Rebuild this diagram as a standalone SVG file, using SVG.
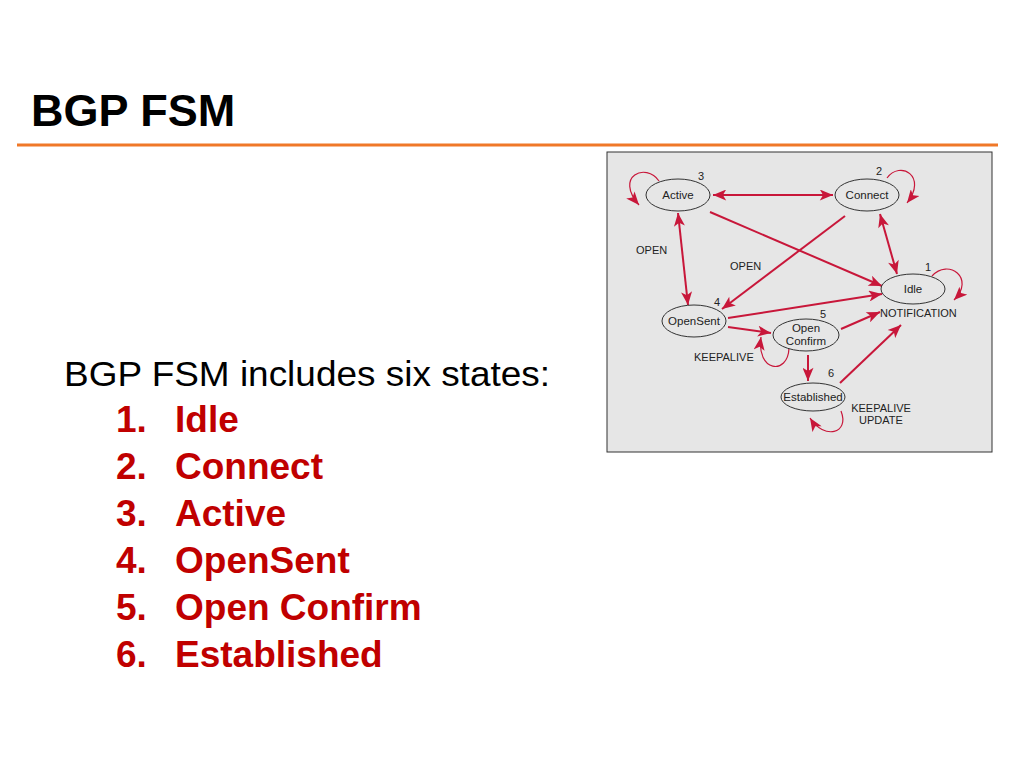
<svg xmlns="http://www.w3.org/2000/svg" width="1024" height="768" viewBox="0 0 1024 768">
<style>
.title{font-family:"Liberation Sans",Arial,sans-serif;font-weight:bold;font-size:45px;fill:#000}
.body{font-family:"Liberation Sans",Arial,sans-serif;font-size:35px;fill:#000}
.item{font-family:"Liberation Sans",Arial,sans-serif;font-weight:bold;font-size:37px;fill:#C00000}
.lbl{font-family:"Liberation Sans",Arial,sans-serif;font-size:11px;fill:#222}
.nl{font-family:"Liberation Sans",Arial,sans-serif;font-size:11.5px;fill:#222}
.st{fill:#E6E6E6;stroke:#333;stroke-width:1}
.e{fill:none;stroke:#C8173A;stroke-width:2}
.loop{fill:none;stroke:#C8173A;stroke-width:1.2}
</style>
<defs>
<marker id="ah" viewBox="0 0 12 10" refX="12" refY="5" markerWidth="14" markerHeight="11" markerUnits="userSpaceOnUse" orient="auto-start-reverse">
<path d="M0,0 L12,5 L0,10 L3,5 z" fill="#C8173A"/>
</marker>
</defs>
<rect width="1024" height="768" fill="#fff"/>
<text class="title" x="31" y="126">BGP FSM</text>
<line x1="17" y1="145" x2="998" y2="145" stroke="#F07828" stroke-width="3"/>
<text class="body" x="64" y="386" textLength="486" lengthAdjust="spacingAndGlyphs">BGP FSM includes six states:</text>
<g class="item">
<text x="116" y="432">1.</text><text x="175" y="432">Idle</text>
<text x="116" y="479">2.</text><text x="175" y="479">Connect</text>
<text x="116" y="526">3.</text><text x="175" y="526">Active</text>
<text x="116" y="573">4.</text><text x="175" y="573">OpenSent</text>
<text x="116" y="620">5.</text><text x="175" y="620">Open Confirm</text>
<text x="116" y="667">6.</text><text x="175" y="667">Established</text>
</g>
<rect x="607" y="152" width="385" height="300" fill="#E6E6E6" stroke="#333" stroke-width="1"/>
<g id="connectors">
<path class="e" d="M713,195 L833,195" marker-start="url(#ah)" marker-end="url(#ah)"/>
<path class="e" d="M678,213 L688,305" marker-start="url(#ah)" marker-end="url(#ah)"/>
<path class="e" d="M880,214 L897,274" marker-start="url(#ah)" marker-end="url(#ah)"/>
<path class="e" d="M710,212 L882,286" marker-end="url(#ah)"/>
<path class="e" d="M845,216 L722,309" marker-end="url(#ah)"/>
<path class="e" d="M728,318 L882,294" marker-end="url(#ah)"/>
<path class="e" d="M728,327 L771,333" marker-end="url(#ah)"/>
<path class="e" d="M841,329 L880,312" marker-end="url(#ah)"/>
<path class="e" d="M808,355 L808,381" marker-end="url(#ah)"/>
<path class="e" d="M840,383 L901,325" marker-end="url(#ah)"/>
<path class="loop" d="M659,181 C646,162 614,176 639,205" marker-end="url(#ah)"/>
<path class="loop" d="M887,178 C900,160 928,176 907,203" marker-end="url(#ah)"/>
<path class="loop" d="M932,276 C948,258 976,278 954,300" marker-end="url(#ah)"/>
<path class="loop" d="M789,348 C788,376 756,372 761,337" marker-end="url(#ah)"/>
<path class="loop" d="M841,411 C850,434 824,440 810,418" marker-end="url(#ah)"/>
</g>
<g id="active"><ellipse class="st" cx="678" cy="195" rx="32" ry="16"/><text class="nl" x="678" y="199" text-anchor="middle">Active</text><text class="lbl" x="701" y="180" text-anchor="middle">3</text></g>
<g id="connect"><ellipse class="st" cx="867" cy="195" rx="32" ry="16"/><text class="nl" x="867" y="199" text-anchor="middle">Connect</text><text class="lbl" x="879" y="175" text-anchor="middle">2</text></g>
<g id="idle"><ellipse class="st" cx="913" cy="289" rx="32" ry="15"/><text class="nl" x="913" y="293" text-anchor="middle">Idle</text><text class="lbl" x="928" y="271" text-anchor="middle">1</text></g>
<g id="opensent"><ellipse class="st" cx="694" cy="321" rx="32" ry="16"/><text class="nl" x="694" y="325" text-anchor="middle">OpenSent</text><text class="lbl" x="717" y="306" text-anchor="middle">4</text></g>
<g id="openconfirm"><ellipse class="st" cx="806" cy="335" rx="33" ry="16"/><text class="nl" x="806" y="332" text-anchor="middle">Open</text><text class="nl" x="806" y="345" text-anchor="middle">Confirm</text><text class="lbl" x="823" y="318" text-anchor="middle">5</text></g>
<g id="established"><ellipse class="st" cx="813" cy="397" rx="32" ry="14"/><text class="nl" x="813" y="401" text-anchor="middle">Established</text><text class="lbl" x="831" y="377" text-anchor="middle">6</text></g>
<g id="labels">
<text class="lbl" x="636" y="254">OPEN</text>
<text class="lbl" x="730" y="270">OPEN</text>
<text class="lbl" x="694" y="361">KEEPALIVE</text>
<text class="lbl" x="880" y="317">NOTIFICATION</text>
<text class="lbl" x="881" y="412" text-anchor="middle">KEEPALIVE</text>
<text class="lbl" x="881" y="424" text-anchor="middle">UPDATE</text>
</g>
</svg>
